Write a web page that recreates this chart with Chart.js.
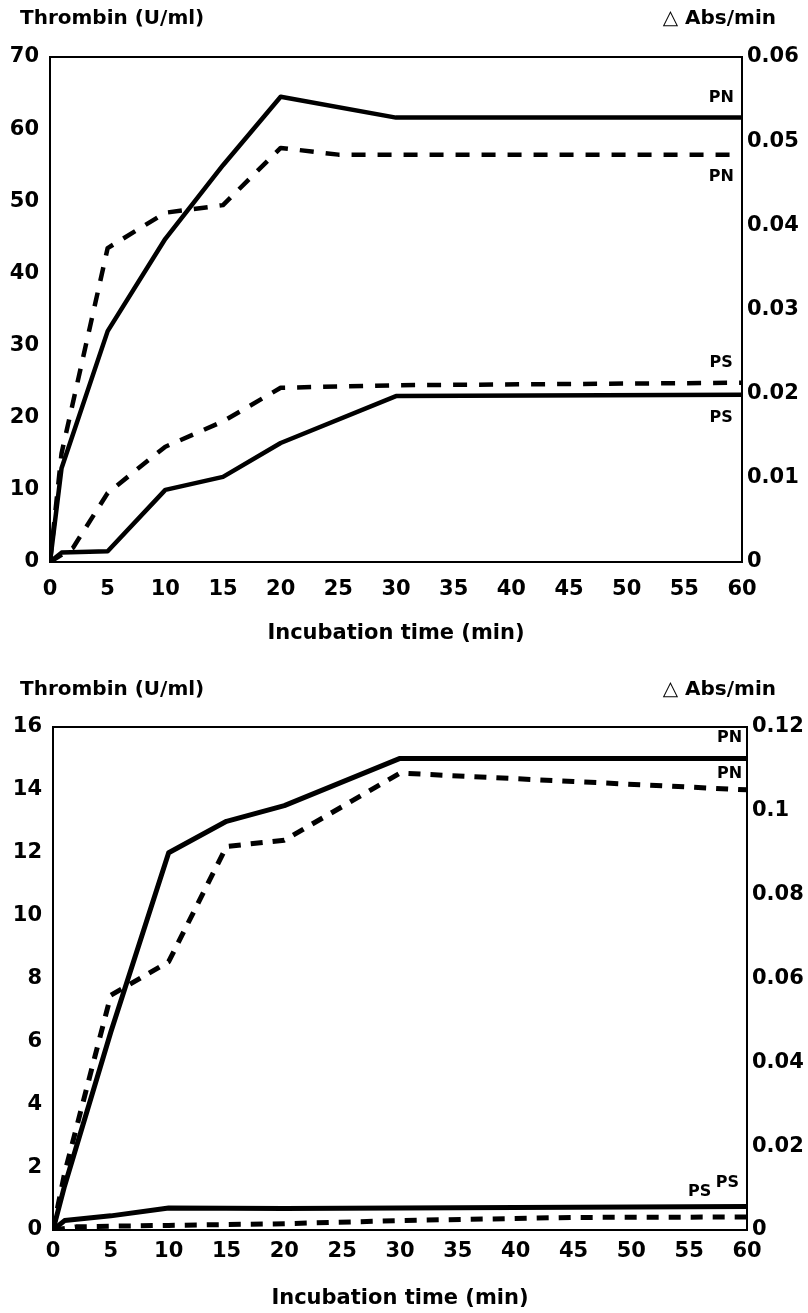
<!DOCTYPE html>
<html>
<head>
<meta charset="utf-8">
<script src="https://cdn.jsdelivr.net/npm/chart.js@4.4.1/dist/chart.umd.min.js"></script>
<style>
  body { margin: 0; background: #fff; width: 808px; height: 1313px; overflow: hidden; }
  .panel { position: absolute; left: 0; width: 808px; }
</style>
</head>
<body>
<div class="panel" style="top:0;height:660px"><canvas id="panelA"></canvas></div>
<div class="panel" style="top:660px;height:653px"><canvas id="panelB"></canvas></div>
<script>
// shared time axis (min)
const timeTicks = [0, 5, 10, 15, 20, 25, 30, 35, 40, 45, 50, 55, 60];

// upper panel
const aThrombinTicks = [0, 10, 20, 30, 40, 50, 60, 70];
const aAbsTicks = [0, 0.01, 0.02, 0.03, 0.04, 0.05, 0.06];
const aPNSolidTime = [0, 1, 5, 10, 15, 20, 30, 60];
const aPNSolid = [0, 13, 32, 44.8, 55, 64.5, 61.6, 61.6];
const aPSSolidTime = [0, 1, 5, 10, 15, 20, 30, 60];
const aPSSolid = [0, 1.3, 1.5, 10, 11.8, 16.5, 23, 23.2];
const aPNDashTime = [0, 1, 5, 10, 15, 20, 25, 30, 60];
const aPNDash = [0, 0.0129, 0.0373, 0.0415, 0.0424, 0.0492, 0.0484, 0.0484, 0.0484];
const aPSDashTime = [0, 2, 5, 10, 15, 20, 30, 60];
const aPSDash = [0, 0.0017, 0.0082, 0.0137, 0.0167, 0.0207, 0.021, 0.0213];

// lower panel
const bThrombinTicks = [0, 2, 4, 6, 8, 10, 12, 14, 16];
const bAbsTicks = [0, 0.02, 0.04, 0.06, 0.08, 0.1, 0.12];
const bPNSolidTime = [0, 1, 5, 10, 15, 20, 30, 60];
const bPNSolid = [0, 1.4, 6.3, 12, 13, 13.5, 15, 15];
const bPSSolidTime = [0, 1, 5, 10, 20, 30, 60];
const bPSSolid = [0, 0.3, 0.45, 0.7, 0.68, 0.7, 0.75];
const bPNDashTime = [0, 1, 5, 10, 15, 20, 30, 45, 60];
const bPNDash = [0, 0.0135, 0.056, 0.064, 0.0915, 0.093, 0.109, 0.107, 0.105];
const bPSDashTime = [0, 2, 5, 10, 20, 30, 45, 60];
const bPSDash = [0, 0.00075, 0.0009, 0.0011, 0.0015, 0.00225, 0.003, 0.0031];

const FONT = '"DejaVu Sans", "Liberation Sans", sans-serif';

function pts(xs, ys) {
  return xs.map((t, i) => ({ x: t, y: ys[i] }));
}

const frame = {
  id: 'frame',
  afterDatasetsDraw(chart) {
    const { ctx, chartArea: a } = chart;
    ctx.save();
    ctx.strokeStyle = '#000';
    ctx.lineWidth = 2;
    ctx.strokeRect(a.left, a.top, a.right - a.left, a.bottom - a.top);
    ctx.restore();
  }
};

const notes = {
  id: 'notes',
  afterDraw(chart, args, opts) {
    const ctx = chart.ctx;
    const x = chart.scales.x, y = chart.scales.y;
    ctx.save();
    ctx.fillStyle = '#000';
    ctx.textBaseline = 'middle';
    ctx.font = 'bold 20px ' + FONT;
    ctx.textAlign = 'left';
    ctx.fillText('Thrombin (U/ml)', opts.leftX, opts.titleY);
    ctx.textAlign = 'right';
    ctx.fillText('\u25B3 Abs/min', opts.rightX, opts.titleY);
    ctx.font = 'bold 16px ' + FONT;
    ctx.textAlign = 'center';
    for (const tag of opts.tags) {
      ctx.fillText(tag.text, x.getPixelForValue(tag.t), y.getPixelForValue(tag.v));
    }
    ctx.restore();
  }
};

function makePanel(id, p) {
  const solid = (data, w) => ({ data, borderColor: '#000', borderWidth: w, pointRadius: 0, tension: 0, yAxisID: 'y', borderJoinStyle: 'round' });
  const dashed = (data, w) => ({ data, borderColor: '#000', borderWidth: w, pointRadius: 0, tension: 0, yAxisID: 'y1', borderDash: p.dash, borderJoinStyle: 'round' });
  const tickFont = { family: FONT, size: 21, weight: 'bold' };

  return new Chart(document.getElementById(id), {
    type: 'line',
    data: {
      datasets: [
        solid(p.pnSolid, p.width),
        solid(p.psSolid, p.width),
        dashed(p.pnDash, p.width),
        dashed(p.psDash, p.width)
      ]
    },
    options: {
      responsive: true,
      maintainAspectRatio: false,
      devicePixelRatio: 1,
      animation: false,
      layout: { padding: { top: p.top, left: 0, right: 0, bottom: 0 } },
      plugins: {
        legend: { display: false },
        tooltip: { enabled: false },
        notes: { leftX: p.leftX, rightX: p.rightX, titleY: p.titleY, tags: p.tags }
      },
      scales: {
        x: {
          type: 'linear', min: 0, max: 60,
          afterBuildTicks: s => { s.ticks = timeTicks.map(v => ({ value: v })); },
          afterFit: s => { s.height = p.xHeight; },
          grid: { display: false, drawTicks: false },
          border: { display: false },
          ticks: { color: '#000', font: tickFont, padding: p.xPad, maxRotation: 0, autoSkip: false },
          title: {
            display: true, text: 'Incubation time (min)', color: '#000',
            font: { family: FONT, size: 21, weight: 'bold' },
            padding: { top: 0, bottom: p.titlePad }
          }
        },
        y: {
          position: 'left', min: 0, max: p.leftMax,
          afterBuildTicks: s => { s.ticks = p.leftTicks.map(v => ({ value: v })); },
          afterFit: s => { s.width = p.leftW; },
          grid: { display: false, drawTicks: false },
          border: { display: false },
          ticks: { color: '#000', font: tickFont, padding: 11, callback: v => String(v) }
        },
        y1: {
          position: 'right', min: 0, max: p.rightMax,
          afterBuildTicks: s => { s.ticks = p.rightTicks.map(v => ({ value: v })); },
          afterFit: s => { s.width = p.rightW; },
          grid: { display: false, drawTicks: false },
          border: { display: false },
          ticks: { color: '#000', font: tickFont, padding: 5, callback: v => String(v) }
        }
      }
    },
    plugins: [frame, notes]
  });
}

makePanel('panelA', {
  pnSolid: pts(aPNSolidTime, aPNSolid),
  psSolid: pts(aPSSolidTime, aPSSolid),
  pnDash: pts(aPNDashTime, aPNDash),
  psDash: pts(aPSDashTime, aPSDash),
  leftTicks: aThrombinTicks, leftMax: 70,
  rightTicks: aAbsTicks, rightMax: 0.06,
  width: 4.5, dash: [14, 12],
  top: 57, leftW: 50, rightW: 66, xHeight: 98, xPad: 15, titlePad: 14,
  leftX: 20, rightX: 776, titleY: 19,
  tags: [
    { text: 'PN', t: 58.2, v: 64.3 },
    { text: 'PN', t: 58.2, v: 53.4 },
    { text: 'PS', t: 58.2, v: 27.6 },
    { text: 'PS', t: 58.2, v: 20 }
  ]
});

makePanel('panelB', {
  pnSolid: pts(bPNSolidTime, bPNSolid),
  psSolid: pts(bPSSolidTime, bPSSolid),
  pnDash: pts(bPNDashTime, bPNDash),
  psDash: pts(bPSDashTime, bPSDash),
  leftTicks: bThrombinTicks, leftMax: 16,
  rightTicks: bAbsTicks, rightMax: 0.12,
  width: 5, dash: [12, 10],
  top: 67, leftW: 53, rightW: 61, xHeight: 83, xPad: 9, titlePad: 2,
  leftX: 20, rightX: 776, titleY: 30,
  tags: [
    { text: 'PN', t: 58.5, v: 15.65 },
    { text: 'PN', t: 58.5, v: 14.5 },
    { text: 'PS', t: 55.9, v: 1.2 },
    { text: 'PS', t: 58.3, v: 1.5 }
  ]
});
</script>
</body>
</html>
